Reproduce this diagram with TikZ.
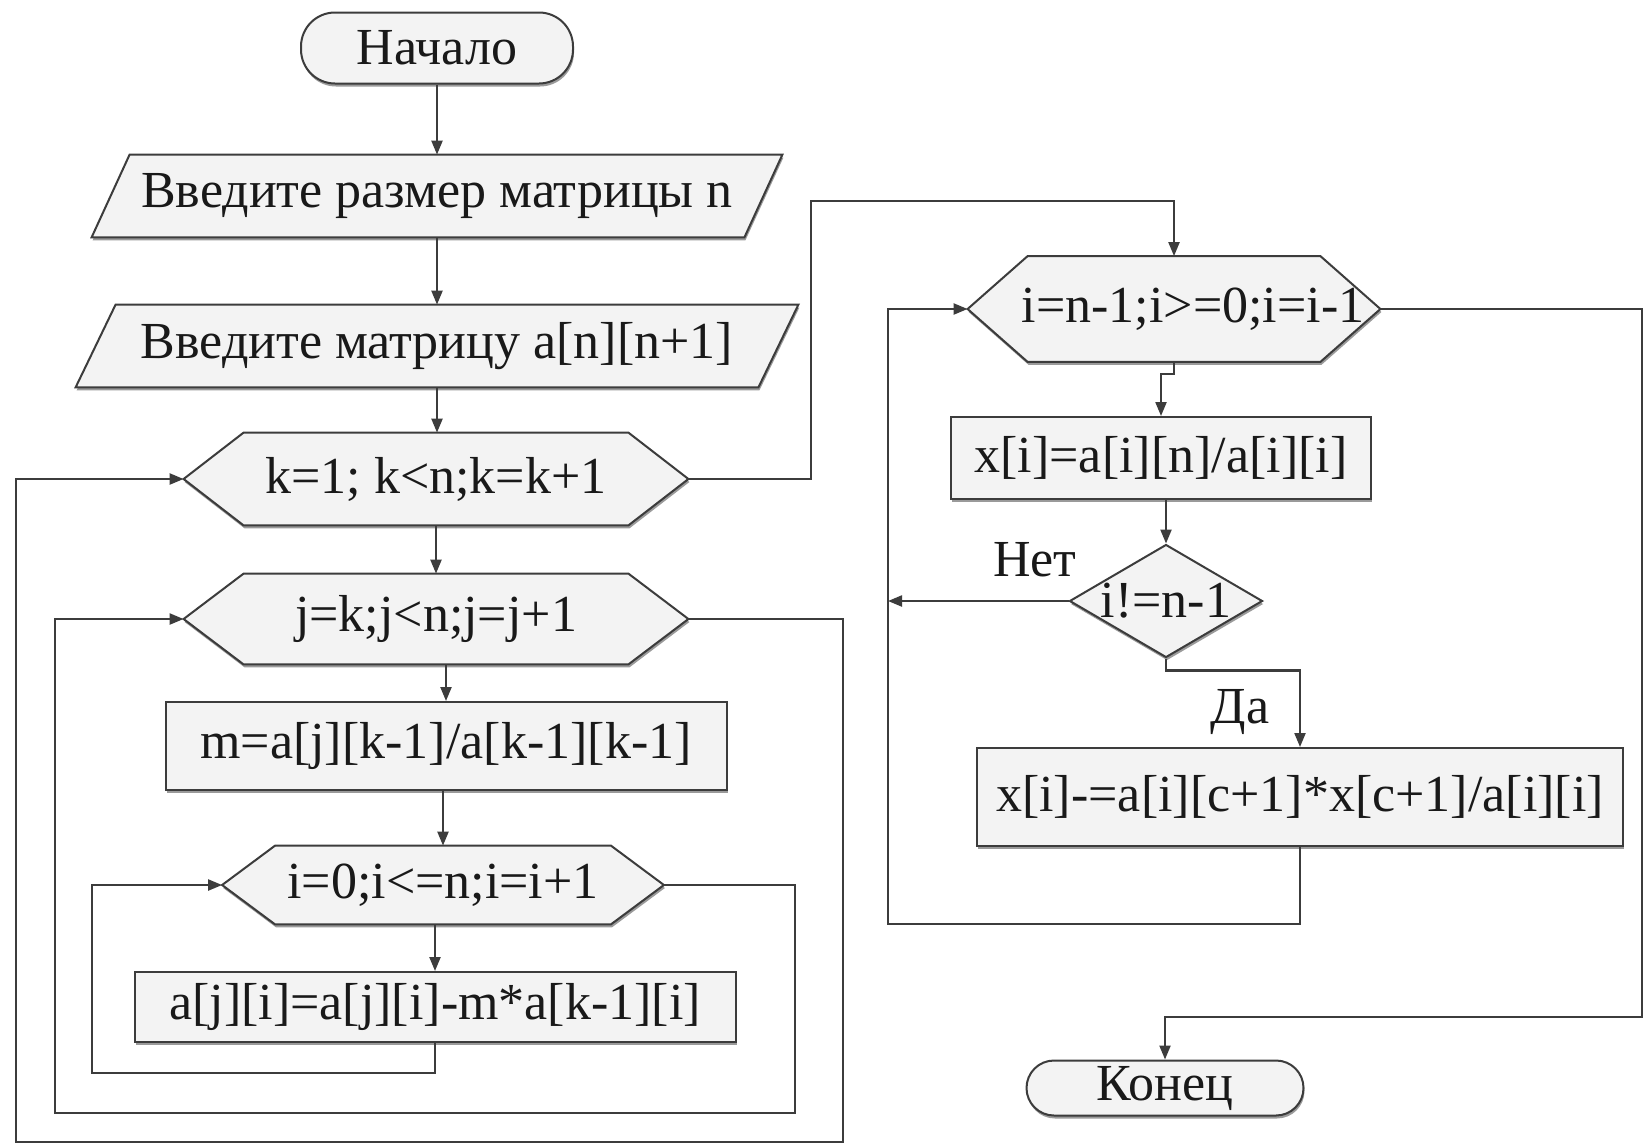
\documentclass[tikz,border=0pt]{standalone}
\usepackage{fontspec}
\setmainfont{Liberation Serif}
\usetikzlibrary{arrows.meta,shapes.geometric,shadows}
\pgfdeclarelayer{bg}
\pgfsetlayers{bg,main}
\definecolor{lc}{HTML}{3C3C3C}
\definecolor{fc}{HTML}{F3F3F3}
\definecolor{shc}{HTML}{9A9A9A}
\tikzset{
  every node/.style={font=\fontsize{26pt}{30pt}\selectfont, text=black!90},
  sh/.style={drop shadow={shadow xshift=0.5pt, shadow yshift=-1.5pt, fill=shc, opacity=1}},
  procbox/.style={rectangle, draw=lc, fill=fc, line width=1pt, inner sep=0pt, sh},
  termbox/.style={rectangle, rounded corners=#1, draw=lc, fill=fc, line width=1pt, inner sep=0pt, sh},
  holder/.style={rectangle, inner sep=0pt},
  shapeline/.style={draw=lc, fill=fc, line width=1pt, line join=miter},
  shadowfill/.style={fill=shc, transform canvas={shift={(0.5pt,-1.5pt)}}},
  conn/.style={draw=lc, line width=1.1pt},
  arr/.style={conn, -{Triangle[length=7pt,width=5.5pt]}},
  lbl/.style={inner sep=0pt}
}
\newcommand{\hexfig}[2]{%
\begin{pgfonlayer}{bg}
\path[shadowfill] ([xshift=#2]#1.north west) -- ([xshift=-#2]#1.north east) -- (#1.east) -- ([xshift=-#2]#1.south east) -- ([xshift=#2]#1.south west) -- (#1.west) -- cycle;
\path[shapeline] ([xshift=#2]#1.north west) -- ([xshift=-#2]#1.north east) -- (#1.east) -- ([xshift=-#2]#1.south east) -- ([xshift=#2]#1.south west) -- (#1.west) -- cycle;
\end{pgfonlayer}}
\newcommand{\parafig}[2]{%
\begin{pgfonlayer}{bg}
\path[shadowfill] ([xshift=#2]#1.north west) -- (#1.north east) -- ([xshift=-#2]#1.south east) -- (#1.south west) -- cycle;
\path[shapeline] ([xshift=#2]#1.north west) -- (#1.north east) -- ([xshift=-#2]#1.south east) -- (#1.south west) -- cycle;
\end{pgfonlayer}}
\begin{document}
\begin{tikzpicture}[x=0.5pt,y=-0.5pt]
\begin{pgfonlayer}{bg}\fill[white] (0,0) rectangle (1647,1146);\end{pgfonlayer}
\useasboundingbox (0,0) rectangle (1647,1146);

% left column
\node[termbox=17pt, minimum width=136pt, minimum height=35.5pt] (start) at (437,48) {Начало};
\node[holder, minimum width=345pt, minimum height=41pt] (p1) at (437,196) {Введите размер матрицы n};
\parafig{p1}{19pt}
\node[holder, minimum width=361pt, minimum height=41pt] (p2) at (437,346) {Введите матрицу a[n][n+1]};
\parafig{p2}{20pt}
\node[holder, minimum width=252pt, minimum height=46pt] (k) at (436,479) {k=1; k<n;k=k+1};
\hexfig{k}{30pt}
\node[holder, minimum width=252pt, minimum height=45pt] (j) at (436,619) {j=k;j<n;j=j+1};
\hexfig{j}{30pt}
\node[procbox, minimum width=280.5pt, minimum height=44pt] (m) at (446,746) {m=a[j][k-1]/a[k-1][k-1]};
\node[holder, minimum width=220.5pt, minimum height=39pt] (i) at (443,885) {i=0;i<=n;i=i+1};
\hexfig{i}{26.5pt}
\node[procbox, minimum width=300.5pt, minimum height=35pt] (a) at (435,1007) {a[j][i]=a[j][i]-m*a[k-1][i]};

% right column
\node[holder, minimum width=206pt, minimum height=52.5pt] (h2) at (1174,309) {\hspace*{19pt}i=n-1;i>=0;i=i-1};
\hexfig{h2}{30pt}
\node[procbox, minimum width=210pt, minimum height=41pt] (x1) at (1161,458) {x[i]=a[i][n]/a[i][i]};
\node[diamond, draw=lc, fill=fc, line width=1pt, inner sep=0pt, aspect=1.7, minimum width=96.5pt, minimum height=56.5pt, sh] (d) at (1166,601) {i!=n-1};
\node[procbox, minimum width=323pt, minimum height=49pt] (x2) at (1300,797) {x[i]-=a[i][c+1]*x[c+1]/a[i][i]};
\node[termbox=13.75pt, minimum width=138.5pt, minimum height=27.5pt] (fin) at (1165,1088) {Конец};
\node[lbl] (no) at (1035,560) {Нет};
\node[lbl] (yes) at (1240,712) {Да};

\coordinate (lb) at (888,924);

% connectors
\draw[arr] (start.south) -- (start.south |- p1.north);
\draw[arr] (p1.south) -- (p1.south |- p2.north);
\draw[arr] (p2.south) -- (p2.south |- k.north);
\draw[arr] (k.south) -- (k.south |- j.north);
\draw[arr] (j.south -| m.north) -- (m.north);
\draw[arr] (m.south -| i.north) -- (i.north);
\draw[arr] (i.south -| a.north) -- (a.north);
\draw[arr] (a.south) |- (92,1073) |- (i.west);
\draw[arr] (i.east) -| (795,1113) -- (55,1113) |- (j.west);
\draw[arr] (j.east) -| (843,1142) -- (16,1142) |- (k.west);
\draw[arr] (k.east) -| (811,201) -| (h2.north);
\draw[arr] (h2.south) -- ++(0,12) -| (x1.north);
\draw[arr] (x1.south -| d.north) -- (d.north);
\draw[arr] (d.west) -- (d.west -| lb);
\draw[arr] (d.south) -- ++(0,12) -| (x2.north);
\draw[arr] (x2.south) |- (lb) |- (h2.west);
\draw[arr] (h2.east) -| (1642,1017) -| (fin.north);
\end{tikzpicture}
\end{document}
